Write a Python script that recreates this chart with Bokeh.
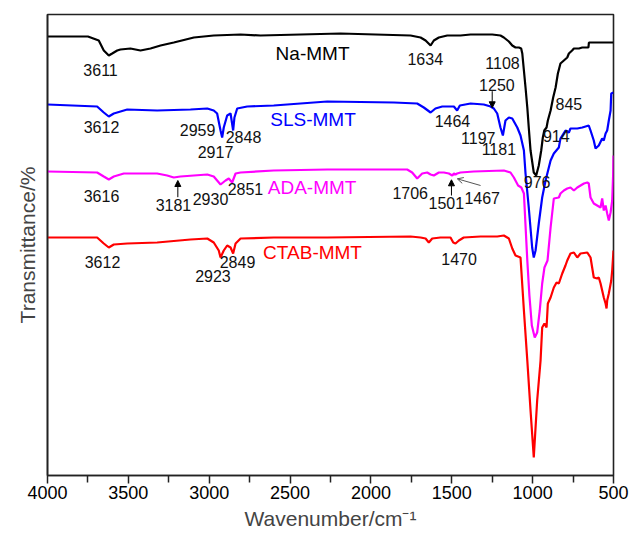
from bokeh.plotting import figure
from bokeh.models import Range1d, FixedTicker, Arrow, NormalHead, OpenHead
from bokeh.core.properties import value
from bokeh.embed import file_html
from bokeh.resources import INLINE

FONT = "Liberation Sans"

# ---------------- data (wavenumber cm-1, transmittance a.u.) ----------------
na_wn = [4000, 3750, 3683, 3652, 3621, 3600, 3569, 3549, 3487, 3425, 3363, 3301, 3219, 3095,
         2972, 2806, 2683, 2188, 1755, 1693, 1662, 1631, 1611, 1580, 1528, 1446, 1384, 1250,
         1199, 1178, 1147, 1126, 1106, 1085, 1071, 1064, 1054, 1044, 1033, 1024, 1013, 993,
         978, 962, 947, 937, 928, 914, 906, 889, 873, 858, 844, 828, 807, 786, 776, 756, 745,
         714, 693, 662, 655, 652, 500]
na_t = [439, 439, 435, 425, 420, 422, 425, 426, 427, 425, 427, 430, 433, 438,
        440, 441, 440, 442, 440, 438, 435, 430, 435, 438, 440, 440, 441, 441,
        440, 438, 434, 430, 428, 428, 427, 422, 405, 388, 368, 348, 325, 303,
        300, 310, 325, 338, 345, 348, 355, 365, 378, 388, 402, 412, 415, 418, 422, 425, 427,
        427, 428, 428, 428, 433, 433]

sls_wn = [4000, 3693, 3652, 3621, 3590, 3507, 3322, 3116, 3012, 2972, 2951, 2930, 2920, 2910,
          2889, 2868, 2852, 2844, 2827, 2765, 2601, 2270, 1858, 1714, 1673, 1631, 1601, 1559,
          1487, 1467, 1450, 1384, 1302, 1260, 1240, 1219, 1199, 1184, 1168, 1147, 1126, 1095,
          1075, 1054, 1044, 1024, 1003, 993, 982, 962, 941, 920, 889, 869, 838, 828, 797,
          776, 766, 724, 693, 653, 642, 622, 611, 591, 570, 560, 549, 539, 529, 518, 514, 500]
sls_t = [371, 369, 363, 359, 362, 366, 365, 366, 367, 365, 362, 345, 338, 348,
         360, 362, 345, 358, 367, 369, 370, 374, 373, 372, 368, 363, 367, 369,
         369, 365, 370, 372, 371, 369, 367, 362, 348, 340, 355, 358, 357, 348,
         340, 325, 302, 268, 228, 218, 225, 252, 278, 295, 315, 322, 328, 337, 345,
         343, 347, 347, 348, 350, 345, 335, 327, 330, 337, 335, 342, 345, 355, 365, 382, 383]

ada_wn = [4000, 3693, 3652, 3621, 3590, 3528, 3322, 3260, 3219, 3178, 3012, 2972, 2951, 2930,
          2899, 2879, 2858, 2837, 2806, 2601, 2270, 1776, 1745, 1714, 1683, 1652, 1631, 1611,
          1580, 1549, 1518, 1497, 1487, 1477, 1467, 1446, 1364, 1178, 1137, 1116, 1090, 1070,
          1054, 1044, 1033, 1020, 1005, 987, 972, 956, 941, 927, 908, 889, 869, 838, 828, 807,
          786, 766, 745, 724, 683, 662, 653, 642, 622, 601, 580, 570, 560, 549, 539, 529, 518,
          508, 502, 500]
ada_t = [304, 303, 299, 296, 299, 302, 302, 300, 298, 299, 301, 299, 295, 291,
         295, 297, 293, 302, 303, 305, 306, 306, 303, 297, 302, 303, 301, 300,
         303, 303, 302, 300, 302, 301, 302, 303, 304, 305, 303, 298, 290, 288,
         282, 250, 215, 180, 150, 138, 143, 165, 192, 208, 215, 248, 277, 278, 282, 285,
         287, 288, 285, 288, 292, 293, 292, 278, 272, 270, 268, 277, 265, 270, 262, 255, 263,
         275, 302, 320]

ctab_wn = [4000, 3693, 3652, 3621, 3590, 3507, 3322, 3116, 3012, 2972, 2941, 2930, 2910, 2889,
           2868, 2852, 2837, 2806, 2601, 2270, 1755, 1693, 1662, 1642, 1621, 1570, 1508, 1491,
           1477, 1456, 1426, 1322, 1219, 1178, 1147, 1126, 1106, 1075, 1054, 1033, 1013, 993,
           972, 951, 941, 927, 914, 906, 889, 869, 852, 838, 817, 797, 786, 766, 745, 724, 704,
           662, 642, 622, 601, 591, 580, 570, 560, 549, 543, 539, 529, 522, 514, 508, 500]
ctab_t = [238, 238, 232, 228, 231, 232, 233, 236, 237, 233, 225, 218, 225, 230,
          228, 222, 232, 237, 238, 238, 239, 238, 237, 233, 237, 238, 238, 233,
          232, 235, 238, 239, 239, 240, 237, 227, 220, 218, 165, 115, 65, 18,
          75, 115, 148, 152, 148, 172, 178, 188, 193, 192, 202, 210, 215, 222, 223, 218, 222,
          223, 218, 198, 197, 198, 192, 185, 178, 172, 167, 175, 182, 188, 195, 205, 225]

series = [
    ("Na-MMT", na_wn, na_t, "#000000"),
    ("SLS-MMT", sls_wn, sls_t, "#0000FF"),
    ("ADA-MMT", ada_wn, ada_t, "#FF00FF"),
    ("CTAB-MMT", ctab_wn, ctab_t, "#FF0000"),
]

# series name labels (anchor positions in data units)
name_x = [2361, 2358, 2364, 2361]
name_y = [422, 356, 288.5, 223]

# peak annotations
peak_text = ["3611", "3612", "2959", "2848", "2917", "3616", "3181", "2930", "2851",
             "3612", "2849", "2923", "1634", "1464", "1706", "1501", "1467", "1470",
             "1108", "1250", "845", "914", "1197", "1181", "976"]
peak_x = [3672, 3666, 3072, 2788, 2961, 3666, 3221, 2992, 2776,
          3660, 2825, 2977, 1664, 1496, 1757, 1534, 1312, 1455,
          1186, 1221, 776, 854, 1336, 1209, 972]
peak_y = [405.5, 349, 345.5, 339, 324, 280, 271, 277, 287,
          213.3, 213.3, 199.5, 416.7, 355, 282.5, 272.5, 278, 216.7,
          412.5, 390.5, 371.7, 339.2, 337.5, 326.5, 293.3]

# arrows: (x_start, y_start, x_end, y_end)
arrows_black = [(3194, 278.3, 3194, 295.0), (1502, 280.0, 1502, 295.7), (1250, 384.3, 1250, 367.7)]
arrows_gray = [(1322, 290.0, 1466, 296.7)]

x_ticks = [4000, 3500, 3000, 2500, 2000, 1500, 1000, 500]
x_minor = [3750, 3250, 2750, 2250, 1750, 1250, 750]

# ---------------- figure ----------------
p = figure(width=633, height=537, output_backend="svg", toolbar_location=None,
           x_range=Range1d(4000, 500), y_range=Range1d(0, 461),
           min_border_left=47, min_border_right=20, min_border_top=14, min_border_bottom=62)

p.background_fill_color = "white"
p.border_fill_color = "white"
p.outline_line_color = "#222222"
p.outline_line_width = 1.6
p.xgrid.visible = False
p.ygrid.visible = False

for name, xs, ys, col in series:
    p.line(xs, ys, line_color=col, line_width=2.2)

for i, (name, xs, ys, col) in enumerate(series):
    p.text(x=[name_x[i]], y=[name_y[i]], text=[name], text_color=col,
           text_font=value(FONT), text_font_size="19px",
           text_align="center", text_baseline="middle")

p.text(x=peak_x, y=peak_y, text=peak_text, text_color="#111111",
       text_font=value(FONT), text_font_size="16px",
       text_align="center", text_baseline="middle")

for (x0, y0, x1, y1) in arrows_black:
    p.add_layout(Arrow(end=NormalHead(size=6, fill_color="black", line_color="black"),
                       x_start=x0, y_start=y0, x_end=x1, y_end=y1,
                       line_color="black", line_width=1))
for (x0, y0, x1, y1) in arrows_gray:
    p.add_layout(Arrow(end=OpenHead(size=6, line_color="#555555", line_width=1),
                       x_start=x0, y_start=y0, x_end=x1, y_end=y1,
                       line_color="#555555", line_width=1))

xa = p.xaxis[0]
xa.ticker = FixedTicker(ticks=x_ticks, minor_ticks=x_minor)
xa.axis_label = "Wavenumber/cm\u207b\u00b9"
xa.axis_label_text_font = FONT
xa.axis_label_text_font_size = "21px"
xa.axis_label_text_font_style = "normal"
xa.axis_label_standoff = 5
xa.major_label_text_font = FONT
xa.major_label_text_font_size = "18px"
xa.major_label_standoff = 2
xa.major_tick_in = 0
xa.major_tick_out = 8
xa.minor_tick_in = 0
xa.minor_tick_out = 7
xa.axis_line_color = "#222222"
xa.axis_line_width = 1.6
xa.major_tick_line_color = "#222222"
xa.major_tick_line_width = 1.5
xa.minor_tick_line_color = "#222222"
xa.minor_tick_line_width = 1.5
xa.major_label_text_color = "black"

ya = p.yaxis[0]
ya.ticker = FixedTicker(ticks=[])
ya.axis_label = "Transmittance/%"
ya.axis_label_text_font = FONT
ya.axis_label_text_font_size = "21px"
ya.axis_label_text_font_style = "normal"
ya.axis_label_standoff = 9
ya.major_tick_out = 0
ya.major_tick_in = 0
ya.minor_tick_out = 0
ya.minor_tick_in = 0
ya.axis_line_color = "#222222"
ya.axis_line_width = 1.6

open("out.html", "w").write(file_html(p, INLINE))
